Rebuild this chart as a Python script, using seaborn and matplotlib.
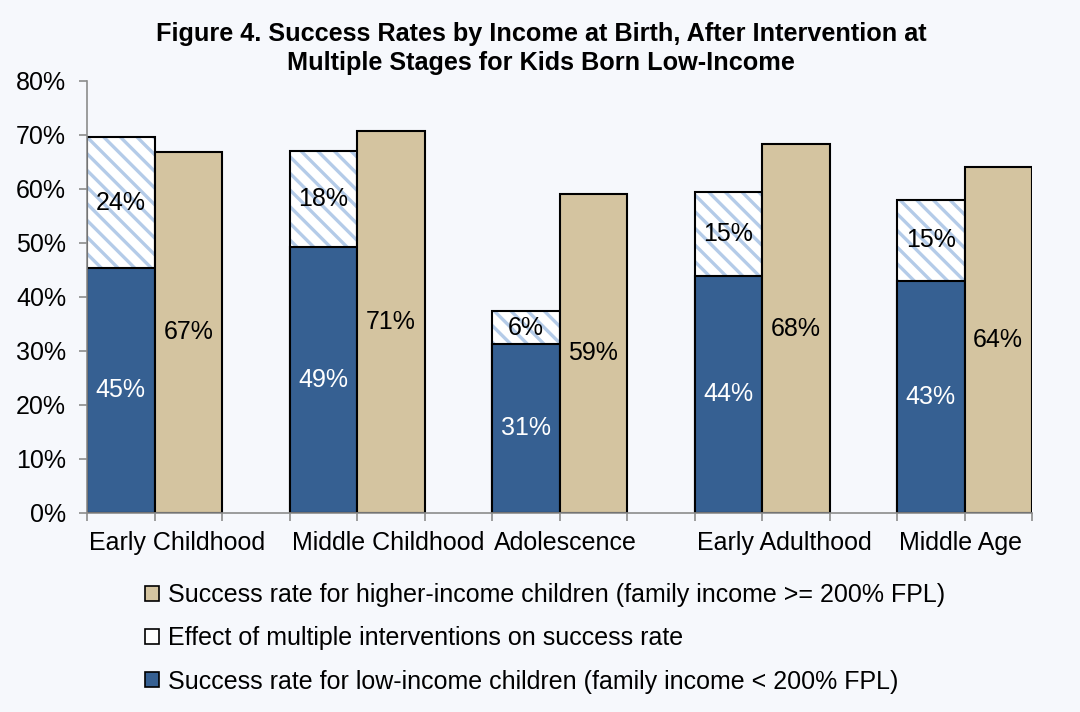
import numpy as np
import pandas as pd
import seaborn as sns
import matplotlib.pyplot as plt
from matplotlib.patches import Patch

# ==========================================
# Data
# ==========================================
stages = ["Early Childhood", "Middle Childhood", "Adolescence", "Early Adulthood", "Middle Age"]
low_income = [45.4, 49.3, 31.3, 43.9, 43.0]
intervention_effect = [24.2, 17.7, 6.1, 15.5, 15.0]
higher_income = [66.9, 70.7, 59.1, 68.3, 64.1]

low_labels = ["45%", "49%", "31%", "44%", "43%"]
effect_labels = ["24%", "18%", "6%", "15%", "15%"]
higher_labels = ["67%", "71%", "59%", "68%", "64%"]

legend_labels = [
    "Success rate for higher-income children (family income >= 200% FPL)",
    "Effect of multiple interventions on success rate",
    "Success rate for low-income children (family income < 200% FPL)",
]

# colours
BLUE = "#366092"
TAN = "#D4C4A0"
STRIPE = "#B4CBE8"
BG = "#F6F8FC"
GRAY = "#8C8C8C"

sns.set_theme(style="white")
plt.rcParams["font.family"] = ["Liberation Sans", "DejaVu Sans"]
plt.rcParams["text.color"] = "black"
plt.rcParams["hatch.linewidth"] = 2.4

# each group uses 3 slots: low bar, high bar, gap (no trailing gap)
pos_low = [3 * i + 0.5 for i in range(len(stages))]
pos_high = [3 * i + 1.5 for i in range(len(stages))]
total_top = [a + b for a, b in zip(low_income, intervention_effect)]

df_low = pd.DataFrame({"pos": pos_low, "low": low_income, "total": total_top})
df_high = pd.DataFrame({"pos": pos_high, "high": higher_income})

fig = plt.figure(figsize=(10.8, 7.12), dpi=100, facecolor=BG)
ax = fig.add_axes([87 / 1080, 1 - 513 / 712, (1032 - 87) / 1080, (513 - 81) / 712])
ax.set_facecolor(BG)

# positions are 3 slots apart, so width 1/3 gives one-slot-wide bars
W = 1 / 3
# hatched "effect" bars drawn to full height, then low-income bars on top
sns.barplot(data=df_low, x="pos", y="total", native_scale=True, width=W,
            color="white", saturation=1, edgecolor=STRIPE, linewidth=0,
            hatch="\\\\", ax=ax, errorbar=None)
sns.barplot(data=df_low, x="pos", y="total", native_scale=True, width=W,
            fill=False, edgecolor="black", linewidth=1.5, ax=ax, errorbar=None)
sns.barplot(data=df_low, x="pos", y="low", native_scale=True, width=W,
            color=BLUE, saturation=1, edgecolor="black", linewidth=1.5,
            ax=ax, errorbar=None)
sns.barplot(data=df_high, x="pos", y="high", native_scale=True, width=W,
            color=TAN, saturation=1, edgecolor="black", linewidth=1.5,
            ax=ax, errorbar=None)

FS = 18
for i in range(len(stages)):
    ax.text(pos_low[i], low_income[i] / 2, low_labels[i], ha="center", va="center",
            color="white", fontsize=FS)
    ax.text(pos_low[i], low_income[i] + intervention_effect[i] / 2, effect_labels[i],
            ha="center", va="center", color="black", fontsize=FS)
    ax.text(pos_high[i], higher_income[i] / 2, higher_labels[i], ha="center",
            va="center", color="black", fontsize=FS)
    # category labels start at the left edge of each group
    ax.text(3 * i + 0.03, -3.3, stages[i], ha="left", va="top", fontsize=FS,
            color="black")

ax.set_xlim(0, 14)
ax.set_ylim(0, 80)
# tick marks sit on every bar edge
edges = sorted(set([p - 0.5 for p in pos_low] + [p + 0.5 for p in pos_low]
                   + [p + 0.5 for p in pos_high]))
ax.set_xticks(edges)
ax.set_xticklabels([])
ax.set_yticks(range(0, 81, 10))
ax.set_yticklabels([f"{v}%" for v in range(0, 81, 10)], fontsize=FS)
ax.set_xlabel("")
ax.set_ylabel("")
ax.tick_params(axis="both", which="both", direction="out", length=6, width=1.2,
               color=GRAY, labelcolor="black", bottom=True, left=True)
ax.tick_params(axis="y", pad=9)
for side in ["top", "right"]:
    ax.spines[side].set_visible(False)
for side in ["left", "bottom"]:
    ax.spines[side].set_color(GRAY)
    ax.spines[side].set_linewidth(1.2)

fig.suptitle("Figure 4. Success Rates by Income at Birth, After Intervention at\n"
             "Multiple Stages for Kids Born Low-Income",
             x=541 / 1080, y=1 - 22 / 712, fontsize=18.2, fontweight="bold",
             linespacing=1.25, color="black")

handles = [
    Patch(facecolor=TAN, edgecolor="black", linewidth=1.2),
    Patch(facecolor="white", edgecolor="black", linewidth=1.2),
    Patch(facecolor=BLUE, edgecolor="black", linewidth=1.2),
]
fig.legend(handles, legend_labels, loc="upper left",
           bbox_to_anchor=(135 / 1080, 1 - 573 / 712), frameon=False,
           fontsize=FS, handlelength=0.55, handleheight=0.55, handletextpad=0.35,
           labelspacing=0.77, borderaxespad=0, labelcolor="black")

plt.savefig("out.png", dpi=100, facecolor=BG)
